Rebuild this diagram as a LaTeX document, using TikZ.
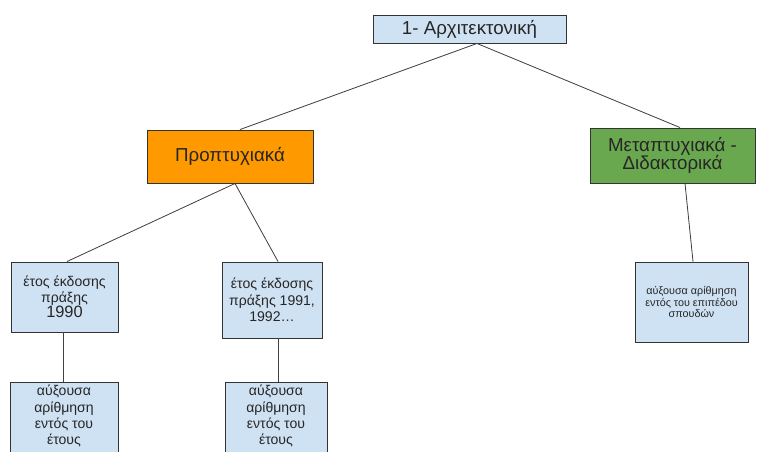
\documentclass[tikz,border=0pt]{standalone}
\usepackage{fontspec}
\setmainfont{Liberation Sans}
\usetikzlibrary{calc}
\definecolor{boxblue}{HTML}{CFE2F3}
\definecolor{ugorange}{HTML}{FF9900}
\definecolor{pggreen}{HTML}{6AA84F}
\tikzset{
  box/.style={draw=black!80, fill=boxblue, align=center, inner sep=0pt, line width=0.8pt, text=black!85},
  numbox/.style={box, anchor=north, inner ysep=0.08cm, text depth=1.2cm, font=\fontsize{12}{14}\selectfont},
  link/.style={draw=black!75, line width=0.7pt},
}
\begin{document}
\begin{tikzpicture}[x=0.03cm, y=-0.03cm]
		\clip (0,0) rectangle (767,451);
		
		% Top
		\node[box, minimum width=5.79cm, minimum height=0.84cm, font=\fontsize{16}{18}\selectfont] (arch) at (469.5,29) {1- Αρχιτεκτονική};
		
		% Undergraduate / postgraduate
		\node[box, fill=ugorange, minimum width=4.98cm, minimum height=1.59cm, font=\fontsize{16}{18}\selectfont] (under) at (230,156.5) {Προπτυχιακά};
		\node[box, fill=pggreen, minimum width=4.95cm, minimum height=1.65cm, font=\fontsize{16}{16}\selectfont] (post) at (672.5,155.5) {Μεταπτυχιακά -\\Διδακτορικά};
		
		% Years
		\node[box, minimum width=3.21cm, minimum height=2.1cm, font=\fontsize{12}{13}\selectfont] (y1990) at (64.5,297) {έτος έκδοσης\\πράξης\\{\fontsize{14}{16}\selectfont 1990}};
		\node[box, minimum width=3.0cm, minimum height=2.28cm, font=\fontsize{12}{14}\selectfont] (y1991) at (272,300) {έτος έκδοσης\\πράξης 1991,\\1992…};
		\node[box, minimum width=3.39cm, minimum height=2.4cm, font=\fontsize{9.2}{10}\selectfont] (level) at (691.5,302) {αύξουσα αρίθμηση\\εντός του επιπέδου\\σπουδών};
		
		% Numbering
		\node[numbox, minimum width=3.24cm] (num1) at (64,382) {αύξουσα\\αρίθμηση\\εντός του\\έτους};
		\node[numbox, minimum width=3.06cm] (num2) at (276,382) {αύξουσα\\αρίθμηση\\εντός του\\έτους};
		
		% Connectors
		\draw[link] ($(arch.south)+(7.5,0)$) -- ($(under.north)+(10,0)$);
		\draw[link] ($(arch.south)+(7.5,0)$) -- ($(post.north)+(7.5,0)$);
		\draw[link] ($(under.south)+(5,0)$) -- ($(y1990.north)+(2.5,0)$);
		\draw[link] ($(under.south)+(5,0)$) -- ($(y1991.north)+(6,0)$);
		\draw[link] ($(post.south)+(12.5,0)$) -- ($(level.north)+(1.5,0)$);
		\draw[link] ($(y1990.south)+(-1.5,0)$) -- ($(num1.north)+(-1,0)$);
		\draw[link] ($(y1991.south)+(6,0)$) -- ($(num2.north)+(2,0)$);
		
	\end{tikzpicture}
\end{document}
